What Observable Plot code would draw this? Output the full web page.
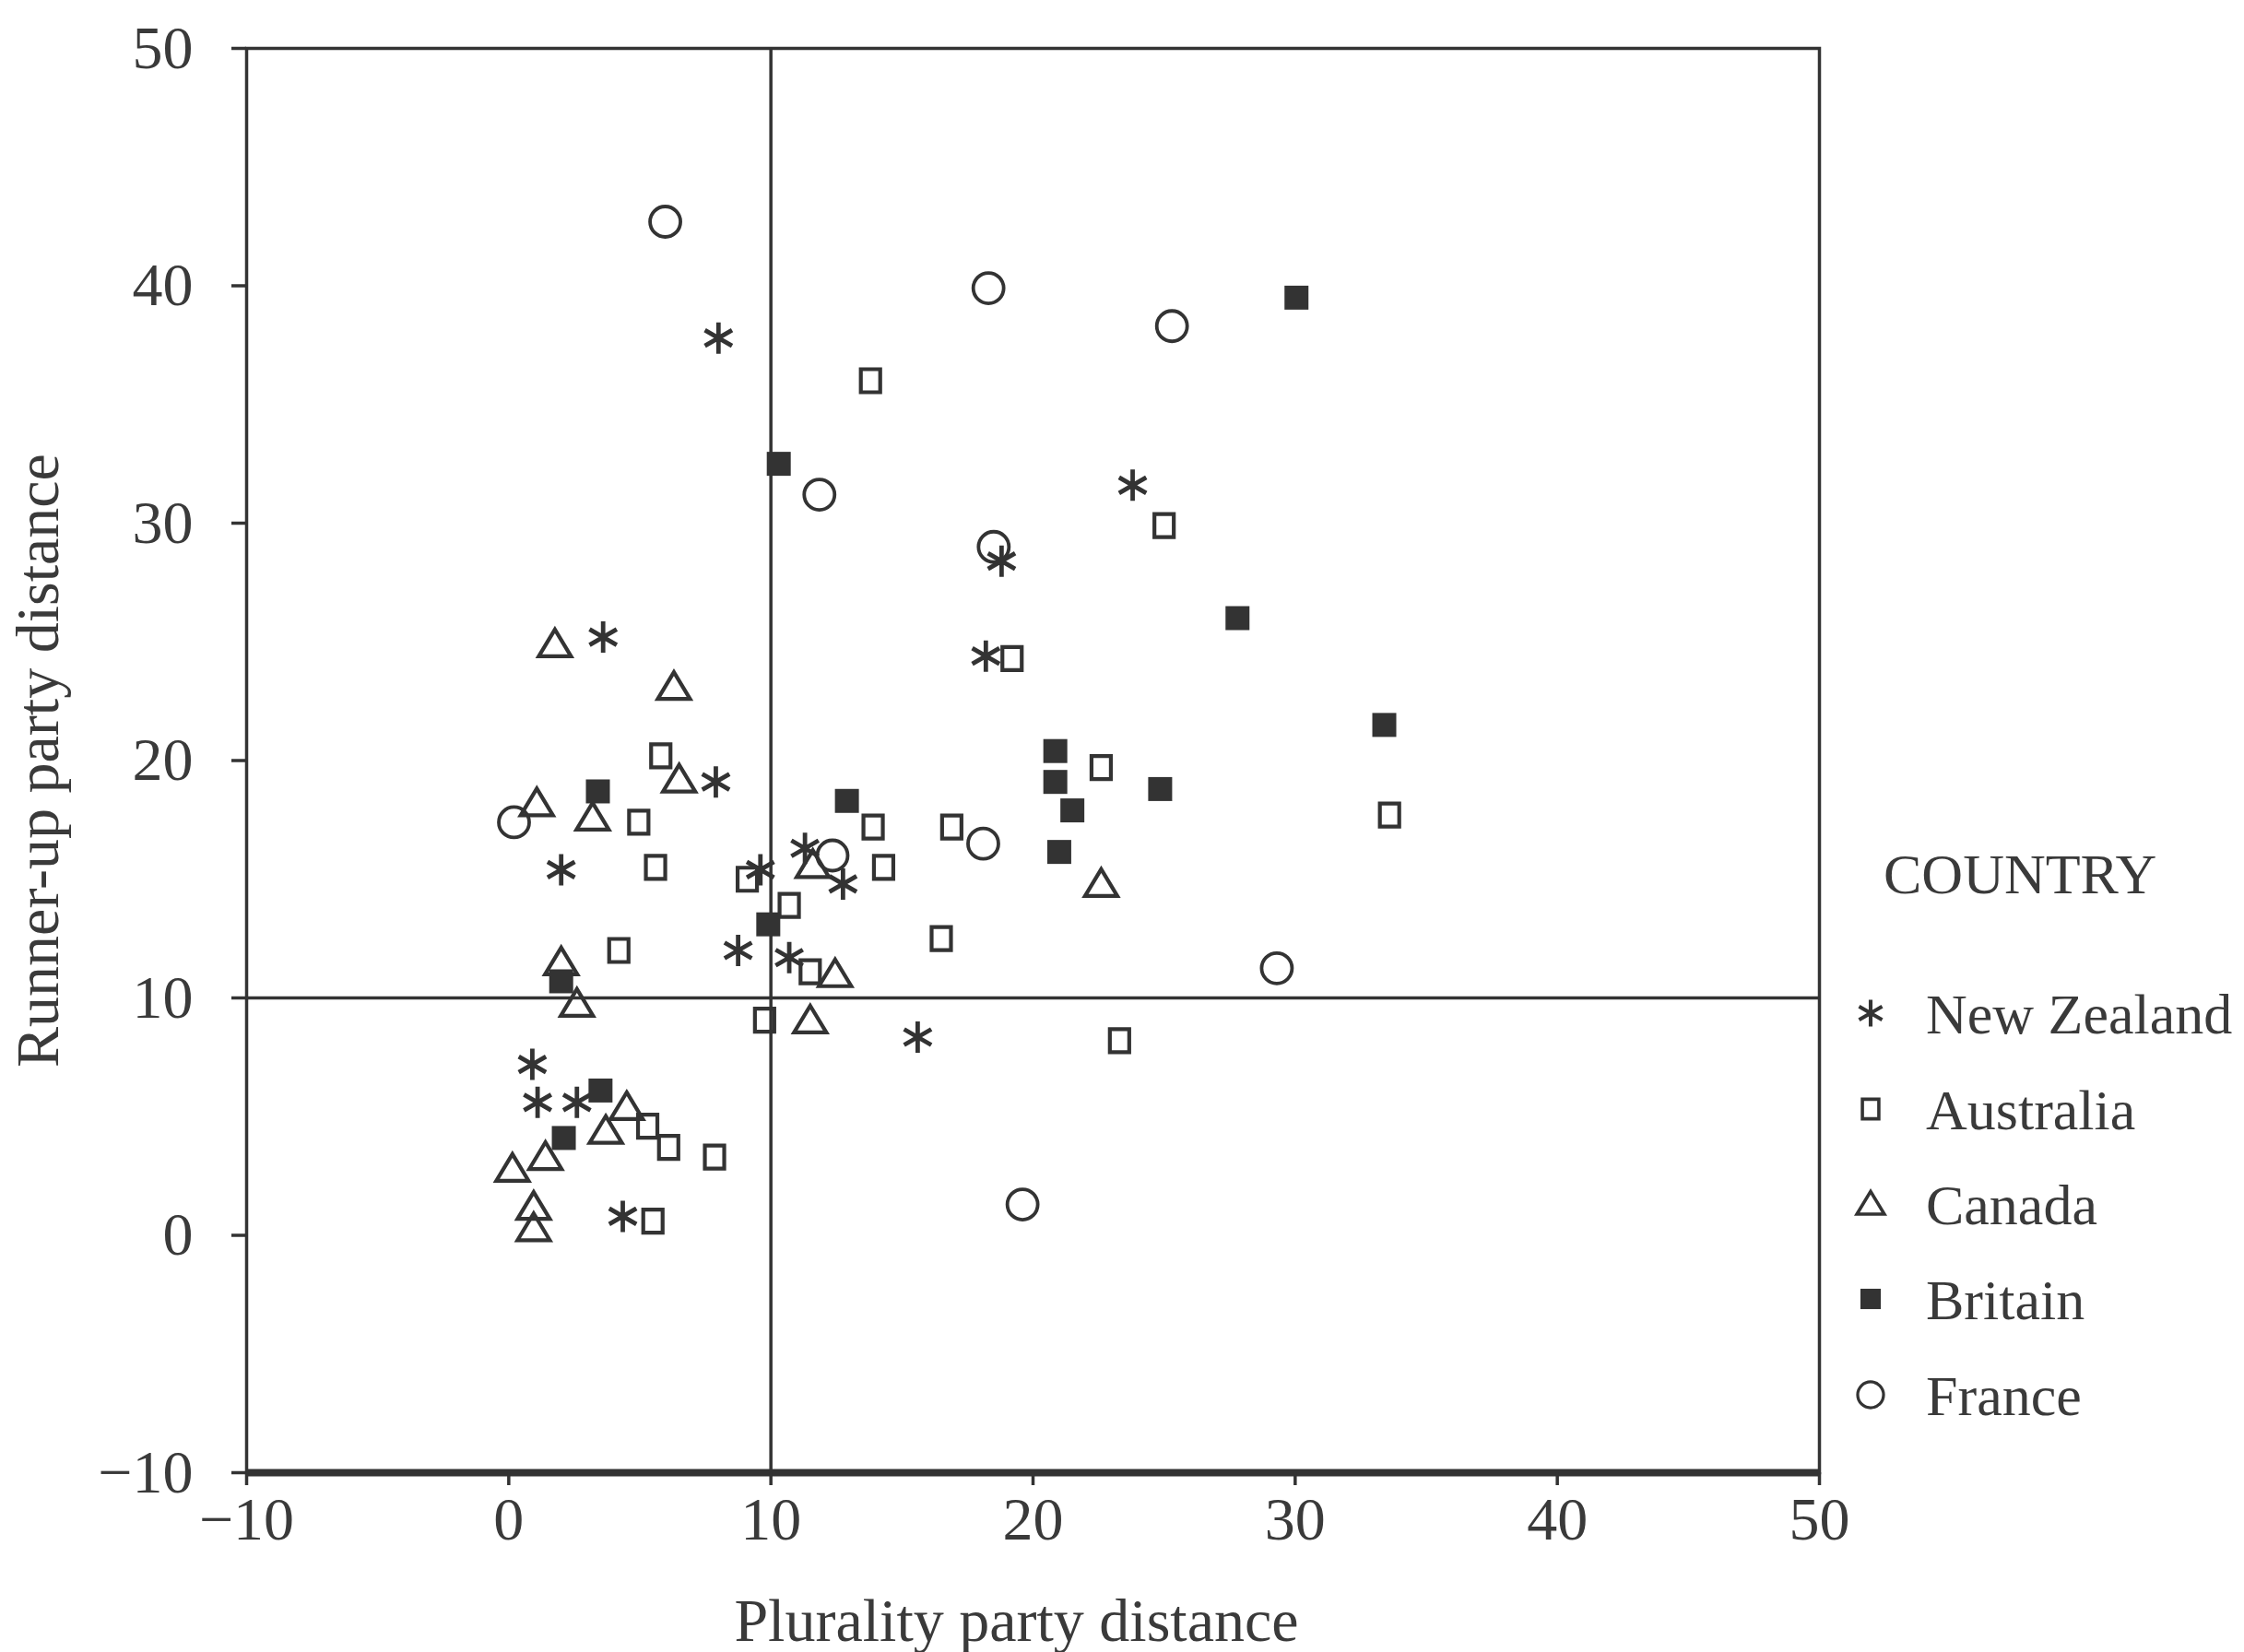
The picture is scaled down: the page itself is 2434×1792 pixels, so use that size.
<!DOCTYPE html>
<html>
<head>
<meta charset="utf-8">
<script src="https://cdn.jsdelivr.net/npm/d3@7"></script>
<script src="https://cdn.jsdelivr.net/npm/@observablehq/plot@0.6"></script>
<style>
  html, body { margin: 0; padding: 0; background: #fff; }
  #wrap { position: relative; width: 2434px; height: 1792px; background: #fff; }
  #wrap > svg { position: absolute; left: 0; top: 0; }
</style>
</head>
<body>
<div id="wrap"></div>
<script>
// ---- data ----
const countries = ["New Zealand", "Australia", "Canada", "Britain", "France"];
const legendTitle = "COUNTRY";
const xLabel = "Plurality party distance";
const yLabel = "Runner-up party distance";
const xTicks = [-10, 0, 10, 20, 30, 40, 50];
const yTicks = [-10, 0, 10, 20, 30, 40, 50];
const refX = [10];
const refY = [10];

const nzX = [8.0, 23.8, 18.8, 18.2, 3.6, 7.9, 2.0, 9.6, 11.3, 12.75, 8.75, 10.7, 15.6, 0.9, 1.1, 2.6, 4.35];
const nzY = [37.8, 31.6, 28.4, 24.4, 25.2, 19.1, 15.4, 15.4, 16.3, 14.8, 12.0, 11.7, 8.35, 7.2, 5.6, 5.6, 0.8];

const auX = [13.8, 25.0, 19.2, 22.6, 33.6, 5.8, 4.96, 5.6, 4.2, 9.1, 10.7, 13.9, 14.3, 16.9, 16.5, 11.5, 9.76, 23.3, 5.3, 6.1, 7.85, 5.5];
const auY = [36.0, 29.9, 24.3, 19.7, 17.7, 20.2, 17.4, 15.5, 12.0, 15.0, 13.9, 17.2, 15.5, 17.2, 12.5, 11.1, 9.06, 8.2, 4.6, 3.7, 3.3, 0.6];

const caX = [1.76, 6.3, 6.5, 1.07, 3.2, 2.0, 2.6, 11.6, 12.45, 11.5, 22.6, 4.5, 3.7, 1.4, 0.14, 0.95, 0.95];
const caY = [24.9, 23.1, 19.2, 18.2, 17.6, 11.5, 9.75, 15.6, 11.0, 9.05, 14.8, 5.4, 4.4, 3.3, 2.8, 1.2, 0.3];

const brX = [30.05, 10.3, 27.8, 33.4, 20.85, 20.85, 24.85, 21.5, 21.0, 12.9, 3.4, 9.9, 2.0, 3.5, 2.1];
const brY = [39.5, 32.5, 26.0, 21.5, 20.4, 19.1, 18.8, 17.9, 16.15, 18.3, 18.7, 13.1, 10.7, 6.1, 4.1];

const frX = [5.97, 18.3, 25.3, 11.85, 18.5, 0.2, 12.35, 18.1, 29.3, 19.6];
const frY = [42.7, 39.9, 38.3, 31.2, 29.0, 17.4, 16.0, 16.5, 11.25, 1.3];

// ---- styling ----
const ink = "#333";
const textInk = "#3a3a3a";
const serif = '"Liberation Serif", "DejaVu Serif", serif';

const symAsterisk = { draw(c) {
  const r = 17, t = r * Math.sqrt(3) / 2, u = r / 2;
  c.moveTo(0, -r); c.lineTo(0, r);
  c.moveTo(-t, -u); c.lineTo(t, u);
  c.moveTo(-t, u); c.lineTo(t, -u);
}};
const symOpenSquare = { draw(c) {
  c.moveTo(-10.5, -12.5); c.lineTo(10.5, -12.5); c.lineTo(10.5, 12.5); c.lineTo(-10.5, 12.5); c.closePath();
}};
const symTriangle = { draw(c) {
  c.moveTo(0, -16); c.lineTo(17.5, 13); c.lineTo(-17.5, 13); c.closePath();
}};
const symFilledSquare = { draw(c) {
  c.moveTo(-13, -13); c.lineTo(13, -13); c.lineTo(13, 13); c.lineTo(-13, 13); c.closePath();
}};
const symCircle = { draw(c) {
  c.moveTo(16.5, 0); c.arc(0, 0, 16.5, 0, 2 * Math.PI);
}};

const series = [
  { name: countries[0], xs: nzX, ys: nzY, symbol: symAsterisk, fill: "none", stroke: ink, sw: 4.8 },
  { name: countries[1], xs: auX, ys: auY, symbol: symOpenSquare, fill: "none", stroke: ink, sw: 4.2 },
  { name: countries[2], xs: caX, ys: caY, symbol: symTriangle, fill: "none", stroke: ink, sw: 4.2 },
  { name: countries[3], xs: brX, ys: brY, symbol: symFilledSquare, fill: ink, stroke: "none", sw: 0 },
  { name: countries[4], xs: frX, ys: frY, symbol: symCircle, fill: "none", stroke: ink, sw: 3.8 }
];

const dotMarks = series.map(s =>
  Plot.dot(s.xs.map((x, i) => ({ x, y: s.ys[i], country: s.name })), {
    x: "x", y: "y", symbol: s.symbol, fill: s.fill, stroke: s.stroke, strokeWidth: s.sw
  })
);

const chart = Plot.plot({
  width: 2434,
  height: 1792,
  marginLeft: 267,
  marginRight: 461,
  marginTop: 52,
  marginBottom: 195,
  x: { domain: [-10, 50] },
  y: { domain: [-10, 50] },
  style: { fontFamily: serif, color: textInk, background: "#fff", overflow: "visible" },
  marks: [
    Plot.frame({ stroke: ink, strokeWidth: 3.5 }),
    Plot.ruleX(refX, { stroke: ink, strokeWidth: 3.5 }),
    Plot.ruleY(refY, { stroke: ink, strokeWidth: 3.5 }),
    Plot.ruleY([-10], { stroke: ink, strokeWidth: 8 }),
    Plot.axisX({ ticks: xTicks, tickSize: 14, tickPadding: 12, fontSize: 66, label: null, stroke: ink, strokeWidth: 3.5 }),
    Plot.axisY({ ticks: yTicks, tickSize: 16, tickPadding: 42, fontSize: 66, label: null, stroke: ink, strokeWidth: 3.5 }),
    ...dotMarks,
    Plot.text([xLabel], { frameAnchor: "bottom", dx: -18, dy: 161, textAnchor: "middle", lineAnchor: "middle", fontSize: 66, fill: textInk }),
    Plot.text([yLabel], { frameAnchor: "left", dx: -226, rotate: -90, textAnchor: "middle", lineAnchor: "middle", fontSize: 66, fill: textInk })
  ]
});

const wrap = document.getElementById("wrap");
wrap.appendChild(chart);

// ---- legend (to the right of the frame) ----
const leg = d3.select(wrap).append("svg")
  .attr("width", 2434).attr("height", 1792)
  .style("pointer-events", "none")
  .style("font-family", serif);

leg.append("text")
  .attr("x", 2043).attr("y", 969)
  .attr("font-size", 62).attr("fill", textInk)
  .text(legendTitle);

const rowBaseline = [1121, 1225, 1328, 1431, 1535];
series.forEach((s, i) => {
  const cy = rowBaseline[i] - 22;
  leg.append("path")
    .attr("transform", `translate(2029,${cy}) scale(0.85)`)
    .attr("d", d3.symbol(s.symbol)())
    .attr("fill", s.fill).attr("stroke", s.stroke).attr("stroke-width", s.sw);
  leg.append("text")
    .attr("x", 2089).attr("y", rowBaseline[i])
    .attr("font-size", 62).attr("fill", textInk)
    .text(s.name);
});
</script>
</body>
</html>
